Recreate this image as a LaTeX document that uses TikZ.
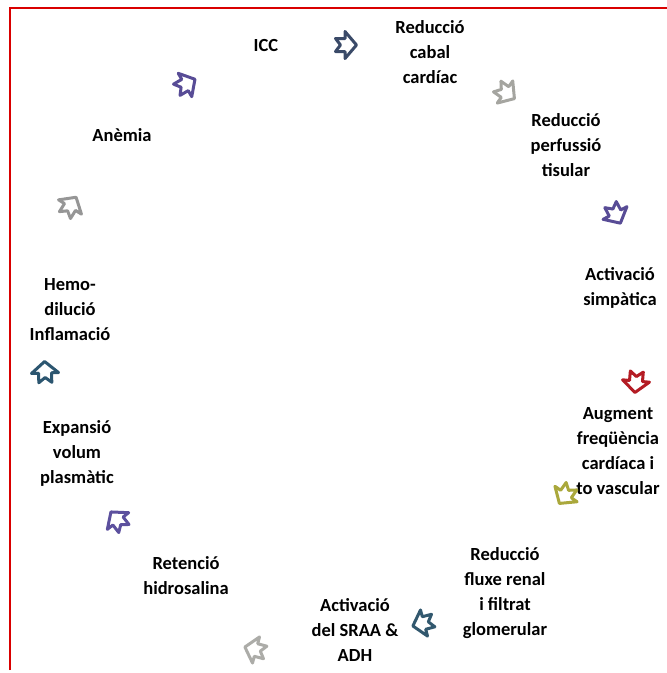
\documentclass[tikz,border=0pt]{standalone}
\usepackage{fontspec}
\setmainfont{Carlito}
\begin{document}
\begin{tikzpicture}[x=1pt,y=1pt,
  lbl/.style={align=center, inner sep=0pt,
    font=\bfseries\fontsize{18.5}{25}\selectfont, text=black},
  notcharrow/.pic={
    \path[line width=3pt, line join=round, fill=white, pic actions]
      (-9.5,6.5)--(0,6.5)--(0,13.5)--(11.5,0)--(0,-13.5)--(0,-6.5)--(-9.5,-6.5)--(-4.5,0)--cycle;}
]
\useasboundingbox (0,0) rectangle (667,-673);
% frame
\draw[red!85!black, line width=1.2pt] (10,-670) -- (10,-8) -- (667,-8);

% stages of the cycle
\node[lbl] (icc) at (266,-45) {ICC};
\node[lbl] (cabal) at (430,-52) {Reducció\\cabal\\cardíac};
\node[lbl] (perf) at (566,-145) {Reducció\\perfussió\\tisular};
\node[lbl] (simp) at (620,-288) {Activació\\simpàtica};
\node[lbl] (freq) at (618,-451) {Augment\\freqüència\\cardíaca i\\to vascular};
\node[lbl] (renal) at (505,-593) {Reducció\\fluxe renal\\i filtrat\\glomerular};
\node[lbl] (sraa) at (355,-630) {Activació\\del SRAA \&\\ADH};
\node[lbl] (ret) at (186,-576) {Retenció\\hidrosalina};
\node[lbl] (exp) at (77,-453) {Expansió\\volum\\plasmàtic};
\node[lbl] (hemo) at (70,-310) {Hemo-\\dilució\\Inflamació};
\node[lbl] (anem) at (122,-135) {Anèmia};

% arrows between stages
\pic (a1) [draw={rgb,255:red,58;green,74;blue,104}, rotate=0] at (345,-45) {notcharrow};
\pic (a2) [draw={rgb,255:red,165;green,165;blue,160}, rotate=-35] at (505,-92) {notcharrow};
\pic (a3) [draw={rgb,255:red,88;green,76;blue,150}, rotate=-62] at (615,-213) {notcharrow};
\pic (a4) [draw={rgb,255:red,180;green,28;blue,36}, rotate=-95] at (636,-381) {notcharrow};
\pic (a5) [draw={rgb,255:red,170;green,168;blue,60}, rotate=-125] at (566,-494) {notcharrow};
\pic (a6) [draw={rgb,255:red,50;green,88;blue,110}, rotate=-165] at (424,-623) {notcharrow};
\pic (a7) [draw={rgb,255:red,172;green,172;blue,168}, rotate=165] at (256,-650) {notcharrow};
\pic (a8) [draw={rgb,255:red,92;green,80;blue,158}, rotate=128] at (118,-521) {notcharrow};
\pic (a9) [draw={rgb,255:red,44;green,86;blue,112}, rotate=92] at (45,-373) {notcharrow};
\pic (a10) [draw={rgb,255:red,150;green,150;blue,150}, rotate=58] at (70,-207) {notcharrow};
\pic (a11) [draw={rgb,255:red,88;green,76;blue,150}, rotate=30] at (185,-85) {notcharrow};
\end{tikzpicture}
\end{document}
